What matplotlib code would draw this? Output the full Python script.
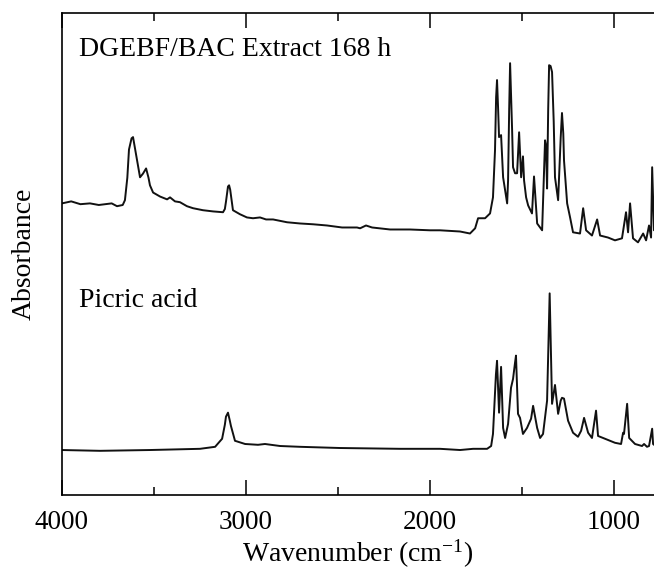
import matplotlib
import matplotlib.pyplot as plt

# traced IR spectra, wavenumber in cm-1, absorbance in arbitrary units (offset traces)
EXTRACT_WN = [
    4000, 3950, 3900, 3848, 3800, 3766, 3730, 3701, 3670, 3658, 3645, 3636, 3622, 3614, 3606,
    3592, 3576, 3560, 3543, 3530, 3522, 3505, 3467, 3429, 3413, 3386, 3359, 3321, 3288, 3234,
    3179, 3125, 3115, 3109, 3098, 3092, 3086, 3082, 3071, 3033, 2995, 2962, 2924, 2891, 2853,
    2777, 2707, 2636, 2560, 2478, 2397, 2380, 2348, 2315, 2217, 2109, 2000, 1946, 1837, 1783,
    1755, 1739, 1701, 1674, 1658, 1647, 1641, 1636, 1630, 1625, 1614, 1603, 1581, 1576, 1570,
    1565, 1560, 1554, 1549, 1538, 1527, 1516, 1505, 1495, 1489, 1478, 1467, 1446, 1435, 1418,
    1391, 1375, 1370, 1364, 1358, 1353, 1345, 1337, 1328, 1321, 1304, 1290, 1283, 1276, 1272,
    1255, 1239, 1223, 1185, 1168, 1152, 1120, 1092, 1076, 1033, 995, 957, 935, 924, 913, 897,
    870, 842, 826, 810, 799, 793, 788, 783
]
EXTRACT_ABS = [
    0.726, 0.731, 0.724, 0.726, 0.722, 0.724, 0.726, 0.719, 0.722, 0.734, 0.790, 0.860, 0.888, 0.891, 0.870,
    0.833, 0.791, 0.800, 0.813, 0.790, 0.771, 0.753, 0.743, 0.736, 0.741, 0.731, 0.729, 0.719, 0.714, 0.709,
    0.706, 0.704, 0.712, 0.730, 0.768, 0.771, 0.760, 0.746, 0.709, 0.699, 0.691, 0.689, 0.691, 0.686, 0.686,
    0.679, 0.676, 0.674, 0.671, 0.666, 0.666, 0.664, 0.671, 0.666, 0.661, 0.661, 0.659, 0.659, 0.656, 0.651,
    0.664, 0.689, 0.689, 0.701, 0.741, 0.858, 0.990, 1.033, 0.960, 0.891, 0.896, 0.791, 0.726, 0.783, 0.960,
    1.075, 1.000, 0.908, 0.816, 0.801, 0.801, 0.903, 0.791, 0.843, 0.783, 0.741, 0.721, 0.701, 0.793, 0.676,
    0.659, 0.883, 0.871, 0.763, 0.960, 1.070, 1.068, 1.053, 0.930, 0.791, 0.734, 0.890, 0.951, 0.900, 0.833,
    0.726, 0.691, 0.654, 0.651, 0.714, 0.659, 0.646, 0.686, 0.646, 0.641, 0.634, 0.639, 0.704, 0.654, 0.726, 0.639,
    0.629, 0.651, 0.634, 0.671, 0.641, 0.816, 0.734, 0.659
]

PICRIC_WN = [
    4000, 3793, 3522, 3250, 3168, 3130, 3115, 3109, 3098, 3088, 3082, 3060, 3005, 2935, 2897,
    2815, 2707, 2489, 2163, 1946, 1837, 1766, 1690, 1668, 1658, 1642, 1636, 1625, 1614, 1603,
    1592, 1576, 1560, 1549, 1538, 1533, 1522, 1511, 1495, 1473, 1451, 1440, 1418, 1402, 1386,
    1364, 1350, 1337, 1321, 1304, 1290, 1283, 1272, 1250, 1223, 1196, 1179, 1163, 1141, 1120,
    1098, 1087, 1049, 995, 962, 951, 946, 929, 918, 886, 848, 837, 821, 810, 793, 788, 783
]
PICRIC_ABS = [
    0.112, 0.110, 0.112, 0.115, 0.120, 0.140, 0.175, 0.195, 0.205, 0.185, 0.172, 0.135, 0.127, 0.125, 0.127,
    0.122, 0.120, 0.117, 0.115, 0.115, 0.112, 0.115, 0.115, 0.122, 0.152, 0.300, 0.334, 0.205, 0.319, 0.167,
    0.142, 0.177, 0.267, 0.289, 0.330, 0.347, 0.202, 0.192, 0.152, 0.167, 0.190, 0.222, 0.167, 0.142, 0.152,
    0.235, 0.502, 0.227, 0.274, 0.202, 0.235, 0.242, 0.240, 0.185, 0.155, 0.145, 0.160, 0.192, 0.155, 0.142,
    0.210, 0.147, 0.140, 0.130, 0.127, 0.155, 0.152, 0.227, 0.142, 0.127, 0.122, 0.127, 0.120, 0.122, 0.165, 0.127, 0.125
]

LABELS = ["DGEBF/BAC Extract 168 h", "Picric acid"]
LABEL_POS = [(3905, 1.108), (3905, 0.484)]

plt.rcParams["font.family"] = ["Liberation Serif", "DejaVu Serif"]
plt.rcParams["mathtext.fontset"] = "custom"
plt.rcParams["mathtext.rm"] = "Liberation Serif"
plt.rcParams["mathtext.it"] = "Liberation Serif:italic"
matplotlib.rcParams.update({'font.size': 20})


def draw() -> None:
    fig = plt.figure(figsize=(6.54, 5.72), dpi=100)
    ax = fig.add_axes([0.0948, 0.1346, 0.9052, 0.8427])

    for wn, absorbance in [(EXTRACT_WN, EXTRACT_ABS), (PICRIC_WN, PICRIC_ABS)]:
        ax.plot(wn, absorbance, color="#111111", linewidth=1.4,
                solid_joinstyle="round", solid_capstyle="round")

    for label, (x, y) in zip(LABELS, LABEL_POS):
        ax.text(x, y, label, fontsize=20, va="center", ha="left")

    ax.set_xlim(4000, 783)
    ax.set_ylim(0, 1.2)
    ax.set_xticks([4000, 3000, 2000, 1000])
    ax.set_xticks([3500, 2500, 1500], minor=True)
    ax.set_yticks([])

    ax.tick_params(axis="x", which="both", direction="in", top=True, bottom=True,
                   width=1.1, labelsize=19.5, pad=11)
    ax.tick_params(axis="x", which="major", length=11)
    ax.tick_params(axis="x", which="minor", length=6)

    for side in ["left", "top", "bottom"]:
        ax.spines[side].set_linewidth(1.2)
    ax.spines["right"].set_visible(False)

    ax.set_xlabel("Wavenumber (cm$^{-1}$)", fontsize=20, labelpad=2)
    ax.set_ylabel("Absorbance", fontsize=20, labelpad=18)

    plt.savefig("out.png", dpi=100)


def main() -> None:
    draw()


main()
